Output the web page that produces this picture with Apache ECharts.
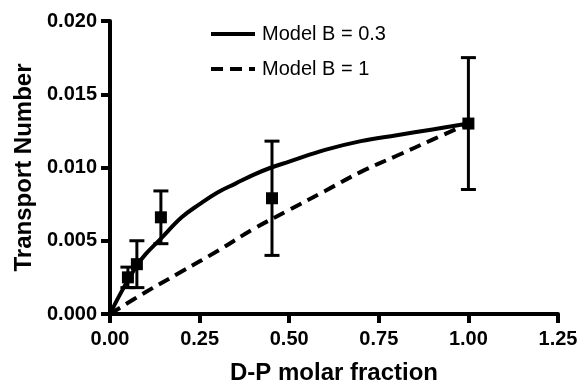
<!DOCTYPE html>
<html>
<head>
<meta charset="utf-8">
<script src="https://cdn.jsdelivr.net/npm/echarts@6/dist/echarts.min.js"></script>
<style>html,body{margin:0;padding:0;background:#fff;}#c{width:581px;height:390px;}</style>
</head>
<body>
<div id="c"></div>
<script>
// Model B = 0.3 curve
const curveX03 = [0, 0.025, 0.05, 0.075, 0.1, 0.14, 0.2, 0.25, 0.3, 0.35, 0.4, 0.45, 0.5, 0.6, 0.7, 0.8, 0.9, 1.0];
const curveY03 = [0, 0.0012, 0.0023, 0.0033, 0.0041, 0.0051, 0.0066, 0.0075, 0.0083, 0.0089, 0.0095, 0.0100, 0.0104, 0.0112, 0.0118, 0.0122, 0.0126, 0.0130];
// Model B = 1 curve
const curveX1 = [0, 0.1, 0.2, 0.3, 0.4, 0.5, 0.6, 0.7, 0.8, 0.9, 1.0];
const curveY1 = [0, 0.0015, 0.0029, 0.0043, 0.0058, 0.0071, 0.0084, 0.0097, 0.0108, 0.0119, 0.0130];
// Experimental points
const pointX = [0.05, 0.075, 0.142, 0.452, 1.0];
const pointY = [0.0025, 0.0034, 0.0066, 0.0079, 0.0130];
const pointErr = [0.0007, 0.0016, 0.0018, 0.0039, 0.0045];
const seriesNames = ['Model B = 0.3', 'Model B = 1'];

const font = '"Liberation Sans", Arial, sans-serif';
const chart = echarts.init(document.getElementById('c'), null, {renderer: 'canvas'});

const errData = pointX.map((x, i) => [x, pointY[i] - pointErr[i], pointY[i] + pointErr[i]]);

chart.setOption({
  animation: false,
  backgroundColor: '#fff',
  grid: {left: 110, right: 23, top: 21, bottom: 69},
  legend: {
    data: seriesNames,
    orient: 'vertical',
    left: 209,
    top: 24,
    padding: 0,
    itemWidth: 44,
    itemHeight: 14,
    itemGap: 15,
    itemStyle: {opacity: 0},
    lineStyle: {width: 4, color: '#000'},
    textStyle: {fontFamily: font, fontSize: 20, color: '#000', padding: [0, 0, 0, 2]}
  },
  xAxis: {
    type: 'value', min: 0, max: 1.25, interval: 0.25,
    name: 'D-P molar fraction', nameLocation: 'middle', nameGap: 47,
    nameTextStyle: {fontFamily: font, fontSize: 24, fontWeight: 'bold', color: '#000'},
    axisLine: {show: true, onZero: false, lineStyle: {color: '#000', width: 4}},
    axisTick: {show: true, length: 9, lineStyle: {color: '#000', width: 4}},
    axisLabel: {fontFamily: font, fontSize: 20, fontWeight: 'bold', color: '#000', margin: 15,
      formatter: v => v.toFixed(2)},
    splitLine: {show: false}
  },
  yAxis: {
    type: 'value', min: 0, max: 0.02, interval: 0.005,
    name: 'Transport Number', nameLocation: 'middle', nameGap: 74,
    nameTextStyle: {fontFamily: font, fontSize: 24, fontWeight: 'bold', color: '#000'},
    axisLine: {show: true, onZero: false, lineStyle: {color: '#000', width: 4}},
    axisTick: {show: true, length: 9, lineStyle: {color: '#000', width: 4}},
    axisLabel: {fontFamily: font, fontSize: 20, fontWeight: 'bold', color: '#000', margin: 13,
      formatter: v => v.toFixed(3)},
    splitLine: {show: false}
  },
  series: [
    {
      name: seriesNames[0], type: 'line', symbol: 'none', smooth: 0.4,
      data: curveX03.map((x, i) => [x, curveY03[i]]),
      lineStyle: {color: '#000', width: 4}, itemStyle: {color: '#000'}, z: 2
    },
    {
      name: seriesNames[1], type: 'line', symbol: 'none', smooth: 0.4,
      data: curveX1.map((x, i) => [x, curveY1[i]]),
      lineStyle: {color: '#000', width: 4, type: [12, 7]}, itemStyle: {color: '#000'}, z: 2
    },
    {
      name: 'err', type: 'custom', z: 3,
      data: errData,
      renderItem: function (params, api) {
        const x = api.value(0);
        const lo = api.coord([x, api.value(1)]);
        const hi = api.coord([x, api.value(2)]);
        const hw = 7.5;
        const st = {stroke: '#000', lineWidth: 3};
        return {type: 'group', children: [
          {type: 'line', shape: {x1: lo[0], y1: lo[1], x2: hi[0], y2: hi[1]}, style: st},
          {type: 'line', shape: {x1: lo[0] - hw, y1: lo[1], x2: lo[0] + hw, y2: lo[1]}, style: st},
          {type: 'line', shape: {x1: hi[0] - hw, y1: hi[1], x2: hi[0] + hw, y2: hi[1]}, style: st}
        ]};
      }
    },
    {
      name: 'points', type: 'scatter', symbol: 'rect', symbolSize: 12, z: 4,
      data: pointX.map((x, i) => [x, pointY[i]]),
      itemStyle: {color: '#000', opacity: 1}
    }
  ]
});
</script>
</body>
</html>
